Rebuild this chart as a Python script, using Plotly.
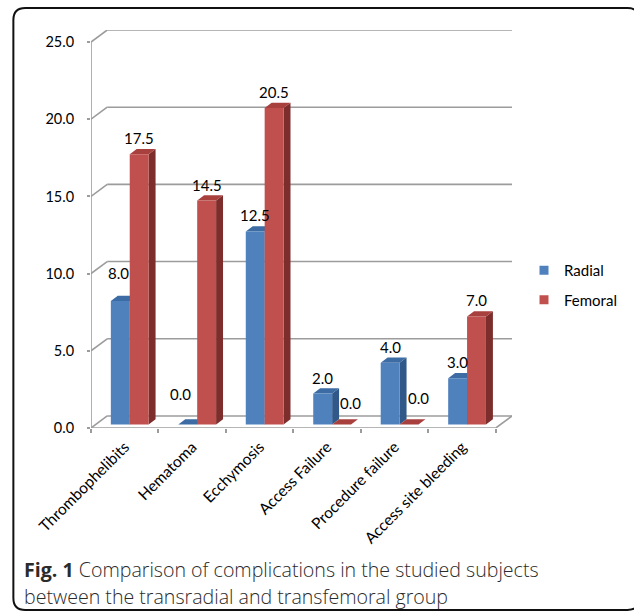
import plotly.graph_objects as go

# ---------------- data ----------------
categories = ["Thrombophelibits", "Hematoma", "Ecchymosis", "Access Failure",
              "Procedure failure", "Access site bleeding"]
radial = [8.0, 0.0, 12.5, 2.0, 4.0, 3.0]
femoral = [17.5, 14.5, 20.5, 0.0, 0.0, 7.0]
series_names = ["Radial", "Femoral"]
y_ticks = [0, 5, 10, 15, 20, 25]
caption_bold = "Fig. 1"
caption_line1 = " Comparison of complications in the studied subjects"
caption_line2 = "between the transradial and transfemoral group"

# ---------------- style / geometry ----------------
W_FIG, H_FIG = 634, 613
L, R, T, B = 91, 120, 30, 185
DX, DY = 0.24, 0.78          # depth of the 3-D box (data units)
FX, FY = 0.074, 0.23         # bar front-face offset into depth
BX, BY = 0.103, 0.34         # bar depth
BW = 0.28                    # bar width
GRID = "#9c9c9c"
FONT = "Lato"
face_colors = {
    "Radial": ("#4F81BD", "#3C6CA3", "#30598A"),
    "Femoral": ("#C0504D", "#A8413E", "#7D2E2C"),
}
offsets = {"Radial": -BW, "Femoral": 0.0}
# extra nudges (px) for value labels that the original placed differently
label_nudge = {("Radial", 0): (-2, 12), ("Radial", 1): (-7, 14),
               ("Femoral", 3): (9, 5), ("Femoral", 4): (9, 10)}

n = len(categories)
xmin, xmax = -0.5, n - 0.5
ymax = y_ticks[-1]
PW = W_FIG - L - R
PH = H_FIG - T - B


def px2paper_x(px):
    return (px - L) / PW


def py2paper_y(py):
    return 1 - (py - T) / PH


fig = go.Figure()

series_vals = {"Radial": radial, "Femoral": femoral}
annotations = []
for name in series_names:
    vals = series_vals[name]
    front_c, top_c, side_c = face_colors[name]
    fx, fy, tx, ty, sx, sy = [], [], [], [], [], []
    for i, v in enumerate(vals):
        x0 = i + offsets[name] + FX
        x1 = x0 + BW
        y0 = FY
        y1 = v + FY
        fx += [x0, x1, x1, x0, x0, None]
        fy += [y0, y0, y1, y1, y0, None]
        tx += [x0, x1, x1 + BX, x0 + BX, x0, None]
        ty += [y1, y1, y1 + BY, y1 + BY, y1, None]
        sx += [x1, x1 + BX, x1 + BX, x1, x1, None]
        sy += [y0, y0 + BY, y1 + BY, y1, y0, None]
        nx, ny = label_nudge.get((name, i), (0, 0))
        annotations.append(dict(
            x=(x0 + x1) / 2, y=y1, xref="x", yref="y", text=f"{v:.1f}",
            showarrow=False, yanchor="middle", xanchor="center",
            xshift=nx, yshift=16 + ny,
            font=dict(family=FONT, size=15, color="#000000")))
    for xs, ys, c in ((sx, sy, side_c), (tx, ty, top_c), (fx, fy, front_c)):
        fig.add_trace(go.Scatter(x=xs, y=ys, mode="lines", fill="toself",
                                 fillcolor=c, line=dict(width=0, color=c),
                                 hoverinfo="skip", showlegend=False))

# legend entries
for k, name in enumerate(series_names):
    fig.add_trace(go.Scatter(x=[None], y=[None], mode="markers", name=name,
                             legendgroup=name,
                             marker=dict(symbol="square", size=9,
                                         color=face_colors[name][0])))

shapes = []
# back wall grid lines + side-wall diagonals
for t in y_ticks:
    shapes.append(dict(type="line", xref="x", yref="y", x0=xmin + DX, x1=xmax + DX,
                       y0=t + DY, y1=t + DY, line=dict(color=GRID, width=1.6), layer="below"))
    shapes.append(dict(type="line", xref="x", yref="y", x0=xmin, x1=xmin + DX,
                       y0=t, y1=t + DY, line=dict(color=GRID, width=1.6), layer="below"))
# floor front edge and right diagonal
shapes.append(dict(type="line", xref="x", yref="y", x0=xmin, x1=xmax, y0=0, y1=0,
                   line=dict(color=GRID, width=1.6), layer="below"))
shapes.append(dict(type="line", xref="x", yref="y", x0=xmax, x1=xmax + DX, y0=0, y1=DY,
                   line=dict(color=GRID, width=1.6), layer="below"))
# vertical value axis
shapes.append(dict(type="line", xref="x", yref="y", x0=xmin, x1=xmin, y0=0, y1=ymax,
                   line=dict(color=GRID, width=1.6), layer="below"))

# outer rounded frame (pixel geometry converted to paper)
fl, ft, fr, fb, rad = 13, 8, 642, 610, 12
X = px2paper_x
Y = py2paper_y
path = (f"M {X(fl+rad)},{Y(ft)} L {X(fr-rad)},{Y(ft)} "
        f"Q {X(fr)},{Y(ft)} {X(fr)},{Y(ft+rad)} "
        f"L {X(fr)},{Y(fb-rad)} Q {X(fr)},{Y(fb)} {X(fr-rad)},{Y(fb)} "
        f"L {X(fl+rad)},{Y(fb)} Q {X(fl)},{Y(fb)} {X(fl)},{Y(fb-rad)} "
        f"L {X(fl)},{Y(ft+rad)} Q {X(fl)},{Y(ft)} {X(fl+rad)},{Y(ft)} Z")
shapes.append(dict(type="path", xref="paper", yref="paper", path=path,
                   line=dict(color="#111111", width=2)))

# caption
cap_font = dict(family="Open Sans", size=19.6, color="#2b2b2b", weight=300)
annotations.append(dict(xref="paper", yref="paper", x=X(22), y=Y(569),
                        xanchor="left", yanchor="middle", showarrow=False,
                        text=f"<b>{caption_bold}</b>{caption_line1}",
                        font=cap_font))
annotations.append(dict(xref="paper", yref="paper", x=X(22), y=Y(596),
                        xanchor="left", yanchor="middle", showarrow=False,
                        text=caption_line2, font=cap_font))

fig.update_layout(
    width=W_FIG, height=H_FIG,
    margin=dict(l=L, r=R, t=T, b=B, pad=0),
    paper_bgcolor="white", plot_bgcolor="white",
    shapes=shapes, annotations=annotations,
    showlegend=True,
    legend=dict(xref="container", yref="container", x=524 / W_FIG,
                y=1 - 254 / H_FIG, xanchor="left", yanchor="top",
                font=dict(family=FONT, size=15, color="#000000"),
                tracegroupgap=7, bgcolor="rgba(0,0,0,0)"),
    xaxis=dict(range=[xmin, xmax + DX], tickvals=list(range(n)), ticktext=categories,
               tickangle=-45, ticks="", showgrid=False, zeroline=False, showline=False,
               ticklabelstandoff=6,
               tickfont=dict(family=FONT, size=15.5, color="#000000"),
               minor=dict(tick0=xmin, dtick=1, ticks="outside", ticklen=4,
                          tickcolor=GRID, tickwidth=1.6, showgrid=False),
               fixedrange=True),
    yaxis=dict(range=[0, ymax + DY], tickvals=y_ticks,
               ticktext=[f"{t:.1f}" for t in y_ticks],
               ticks="outside", ticklen=3, tickcolor=GRID, tickwidth=1.6,
               ticklabelstandoff=10,
               showgrid=False, zeroline=False, showline=False,
               tickfont=dict(family=FONT, size=14.5, color="#000000"),
               fixedrange=True),
)

fig.write_html("out.html")
